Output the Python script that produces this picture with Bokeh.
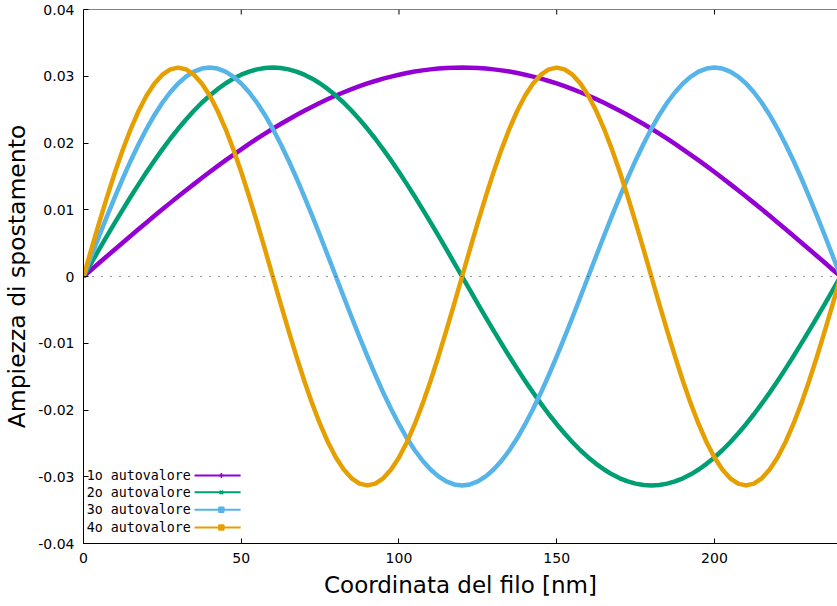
from bokeh.plotting import figure
from bokeh.models import FixedTicker, Span, Range1d, Label
from bokeh.embed import file_html
from bokeh.resources import INLINE

# ---- data ----
x_nm = [0, 2.5, 5, 7.5, 10, 12.5, 15, 17.5, 20, 22.5, 25, 27.5, 30, 32.5, 35, 37.5, 40, 42.5,
        45, 47.5, 50, 52.5, 55, 57.5, 60, 62.5, 65, 67.5, 70, 72.5, 75, 77.5, 80, 82.5, 85, 87.5,
        90, 92.5, 95, 97.5, 100, 102.5, 105, 107.5, 110, 112.5, 115, 117.5, 120, 122.5, 125,
        127.5, 130, 132.5, 135, 137.5, 140, 142.5, 145, 147.5, 150, 152.5, 155, 157.5, 160,
        162.5, 165, 167.5, 170, 172.5, 175, 177.5, 180, 182.5, 185, 187.5, 190, 192.5, 195,
        197.5, 200, 202.5, 205, 207.5, 210, 212.5, 215, 217.5, 220, 222.5, 225, 227.5, 230,
        232.5, 235, 237.5, 240]

mode1 = [0, 0.00102, 0.00205, 0.00307, 0.00409, 0.00510, 0.00611, 0.00711, 0.00810, 0.00909,
         0.01006, 0.01103, 0.01198, 0.01292, 0.01384, 0.01475, 0.01565, 0.01653, 0.01739, 0.01823,
         0.01905, 0.01986, 0.02064, 0.02140, 0.02213, 0.02284, 0.02353, 0.02420, 0.02483, 0.02544,
         0.02603, 0.02658, 0.02711, 0.02760, 0.02807, 0.02851, 0.02892, 0.02929, 0.02964, 0.02995,
         0.03023, 0.03048, 0.03070, 0.03088, 0.03103, 0.03115, 0.03123, 0.03128, 0.03130,
         0.03128, 0.03123, 0.03115, 0.03103, 0.03088, 0.03070, 0.03048, 0.03023, 0.02995, 0.02964,
         0.02929, 0.02892, 0.02851, 0.02807, 0.02760, 0.02711, 0.02658, 0.02603, 0.02544, 0.02483,
         0.02420, 0.02353, 0.02284, 0.02213, 0.02140, 0.02064, 0.01986, 0.01905, 0.01823, 0.01739,
         0.01653, 0.01565, 0.01475, 0.01384, 0.01292, 0.01198, 0.01103, 0.01006, 0.00909, 0.00810,
         0.00711, 0.00611, 0.00510, 0.00409, 0.00307, 0.00205, 0.00102, 0]

mode2 = [0, 0.00205, 0.00409, 0.00611, 0.00810, 0.01006, 0.01198, 0.01384, 0.01565, 0.01739,
         0.01905, 0.02064, 0.02213, 0.02353, 0.02483, 0.02603, 0.02711, 0.02807, 0.02892, 0.02964,
         0.03023, 0.03070, 0.03103, 0.03123, 0.03130, 0.03123, 0.03103, 0.03070, 0.03023, 0.02964,
         0.02892, 0.02807, 0.02711, 0.02603, 0.02483, 0.02353, 0.02213, 0.02064, 0.01905, 0.01739,
         0.01565, 0.01384, 0.01198, 0.01006, 0.00810, 0.00611, 0.00409, 0.00205, 0,
         -0.00205, -0.00409, -0.00611, -0.00810, -0.01006, -0.01198, -0.01384, -0.01565, -0.01739,
         -0.01905, -0.02064, -0.02213, -0.02353, -0.02483, -0.02603, -0.02711, -0.02807, -0.02892,
         -0.02964, -0.03023, -0.03070, -0.03103, -0.03123, -0.03130, -0.03123, -0.03103, -0.03070,
         -0.03023, -0.02964, -0.02892, -0.02807, -0.02711, -0.02603, -0.02483, -0.02353, -0.02213,
         -0.02064, -0.01905, -0.01739, -0.01565, -0.01384, -0.01198, -0.01006, -0.00810, -0.00611,
         -0.00409, -0.00205, 0]

mode3 = [0, 0.00307, 0.00611, 0.00909, 0.01198, 0.01475, 0.01739, 0.01986, 0.02213, 0.02420,
         0.02603, 0.02760, 0.02892, 0.02995, 0.03070, 0.03115, 0.03130, 0.03115, 0.03070, 0.02995,
         0.02892, 0.02760, 0.02603, 0.02420, 0.02213, 0.01986, 0.01739, 0.01475, 0.01198, 0.00909,
         0.00611, 0.00307, 0,
         -0.00307, -0.00611, -0.00909, -0.01198, -0.01475, -0.01739, -0.01986, -0.02213, -0.02420,
         -0.02603, -0.02760, -0.02892, -0.02995, -0.03070, -0.03115, -0.03130, -0.03115, -0.03070,
         -0.02995, -0.02892, -0.02760, -0.02603, -0.02420, -0.02213, -0.01986, -0.01739, -0.01475,
         -0.01198, -0.00909, -0.00611, -0.00307, 0,
         0.00307, 0.00611, 0.00909, 0.01198, 0.01475, 0.01739, 0.01986, 0.02213, 0.02420,
         0.02603, 0.02760, 0.02892, 0.02995, 0.03070, 0.03115, 0.03130, 0.03115, 0.03070, 0.02995,
         0.02892, 0.02760, 0.02603, 0.02420, 0.02213, 0.01986, 0.01739, 0.01475, 0.01198, 0.00909,
         0.00611, 0.00307, 0]

mode4 = [0, 0.00409, 0.00810, 0.01198, 0.01565, 0.01905, 0.02213, 0.02483, 0.02711, 0.02892,
         0.03023, 0.03103, 0.03130, 0.03103, 0.03023, 0.02892, 0.02711, 0.02483, 0.02213, 0.01905,
         0.01565, 0.01198, 0.00810, 0.00409, 0,
         -0.00409, -0.00810, -0.01198, -0.01565, -0.01905, -0.02213, -0.02483, -0.02711, -0.02892,
         -0.03023, -0.03103, -0.03130, -0.03103, -0.03023, -0.02892, -0.02711, -0.02483, -0.02213,
         -0.01905, -0.01565, -0.01198, -0.00810, -0.00409, 0,
         0.00409, 0.00810, 0.01198, 0.01565, 0.01905, 0.02213, 0.02483, 0.02711, 0.02892,
         0.03023, 0.03103, 0.03130, 0.03103, 0.03023, 0.02892, 0.02711, 0.02483, 0.02213, 0.01905,
         0.01565, 0.01198, 0.00810, 0.00409, 0,
         -0.00409, -0.00810, -0.01198, -0.01565, -0.01905, -0.02213, -0.02483, -0.02711, -0.02892,
         -0.03023, -0.03103, -0.03130, -0.03103, -0.03023, -0.02892, -0.02711, -0.02483, -0.02213,
         -0.01905, -0.01565, -0.01198, -0.00810, -0.00409, 0]

series_names = ["1o autovalore", "2o autovalore", "3o autovalore", "4o autovalore"]
x_ticks = [0, 50, 100, 150, 200]
y_ticks = [-0.04, -0.03, -0.02, -0.01, 0, 0.01, 0.02, 0.03, 0.04]
y_tick_labels = ["-0.04", "-0.03", "-0.02", "-0.01", "0", "0.01", "0.02", "0.03", "0.04"]

# ---- styles / layout ----
colors = ["#9400D3", "#009E73", "#56B4E9", "#E69F00"]
markers = ["cross", "x", "square", "square"]
TICK_FONT = "DejaVu Sans"
LABEL_FONT = "DejaVu Sans"
KEY_FONT = "DejaVu Sans Mono"
W, H = 837, 606
B_LEFT, B_BOTTOM, B_TOP = 82, 63, 9
X0, X1, Y0, Y1 = 0, 239, -0.04, 0.04
TICK_PX = 5

p = figure(width=W, height=H, x_range=Range1d(X0, X1), y_range=Range1d(Y0, Y1),
           output_backend="svg", toolbar_location=None,
           min_border_left=B_LEFT, min_border_bottom=B_BOTTOM, min_border_top=B_TOP,
           min_border_right=0)
p.grid.visible = False
p.outline_line_color = None
p.background_fill_color = "white"
p.border_fill_color = "white"

for ax in [p.xaxis[0], p.yaxis[0]]:
    ax.major_tick_in = TICK_PX
    ax.major_tick_out = 0
    ax.minor_tick_in = 0
    ax.minor_tick_out = 0
    ax.axis_line_color = "black"
    ax.major_tick_line_color = "black"
    ax.major_label_text_font = TICK_FONT
    ax.major_label_text_font_size = "14px"
    ax.major_label_text_color = "black"
    ax.major_label_standoff = 9
    ax.axis_label_text_font = LABEL_FONT
    ax.axis_label_text_font_style = "normal"
    ax.axis_label_text_color = "black"

p.xaxis.ticker = FixedTicker(ticks=x_ticks)
p.yaxis.ticker = FixedTicker(ticks=y_ticks)
p.yaxis.major_label_overrides = {t: l for t, l in zip(y_ticks, y_tick_labels)}
p.xaxis.axis_label = "Coordinata del filo [nm]"
p.yaxis.axis_label = "Ampiezza di spostamento"
p.xaxis.axis_label_text_font_size = "23px"
p.yaxis.axis_label_text_font_size = "23.5px"
p.xaxis.axis_label_standoff = 6
p.yaxis.axis_label_standoff = 4

# top border with inward mirror ticks (gnuplot style)
p.add_layout(Span(location=Y1, dimension="width", line_color="black", line_width=1))
frame_h = H - B_TOP - B_BOTTOM
tick_len = TICK_PX * (Y1 - Y0) / frame_h
p.segment(x0=x_ticks, y0=[Y1] * len(x_ticks), x1=x_ticks, y1=[Y1 - tick_len] * len(x_ticks),
          line_color="black", line_width=1)

# dotted zero line
p.add_layout(Span(location=0, dimension="width", line_color="#333333",
                  line_dash="1 8", line_width=1.2))

for ys, c in zip([mode1, mode2, mode3, mode4], colors):
    p.line(x_nm, ys, line_color=c, line_width=4.5, line_join="round")

# ---- key (gnuplot style: text then sample) ----
key_y = [-0.0298, -0.03234, -0.03494, -0.0376]
for name, c, m, ky in zip(series_names, colors, markers, key_y):
    p.add_layout(Label(x=34.0, y=ky, text=name, text_align="right", text_baseline="middle",
                       text_font=KEY_FONT, text_font_size="13.3px", text_color="black"))
    p.line([35.2, 49.8], [ky, ky], line_color=c, line_width=2)
    p.scatter([43.7], [ky], marker=m, size=5, line_color=c, fill_color=c, line_width=1.5)

open("out.html", "w").write(file_html(p, INLINE))
